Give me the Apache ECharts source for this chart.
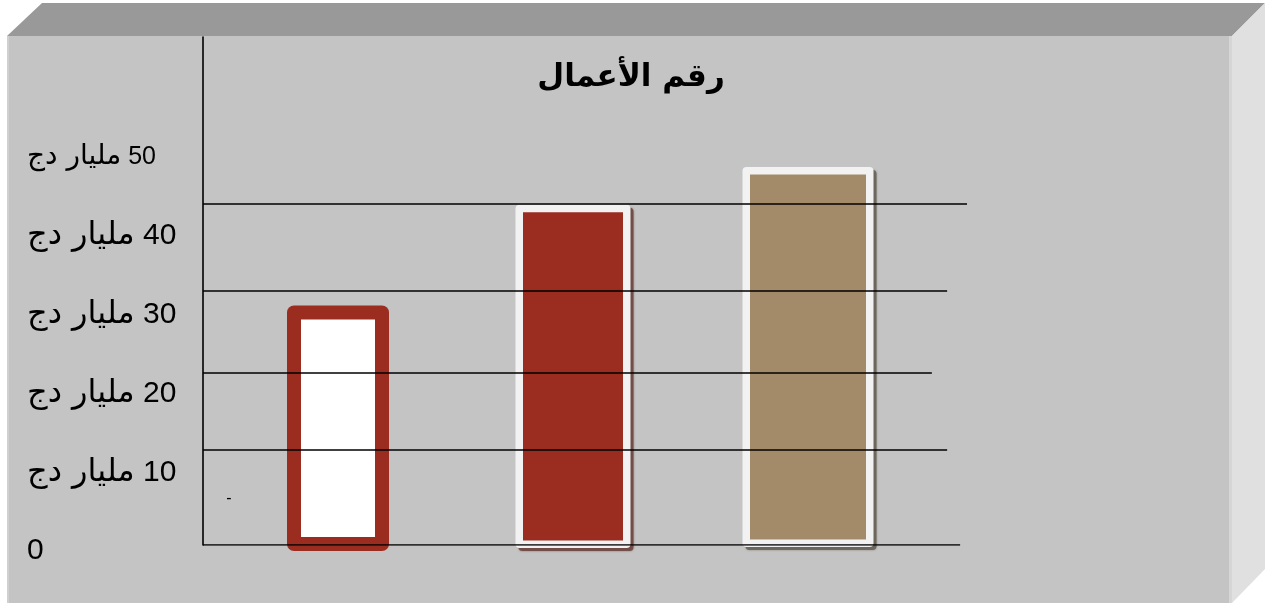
<!DOCTYPE html>
<html>
<head>
<meta charset="utf-8">
<script src="https://cdn.jsdelivr.net/npm/echarts@6/dist/echarts.min.js"></script>
<style>
html,body{margin:0;padding:0;background:#ffffff;}
#chart{width:1267px;height:606px;}
</style>
</head>
<body>
<div id="chart"></div>
<script>
// ---- data ----
const titleText = 'رقم الأعمال';
const unitText = 'مليار دج';
const categories = ['1', '2', '3'];
const values = [30.4, 43.2, 48.0];
const tickValues = [0, 10, 20, 30, 40, 50];
// hand-drawn horizontal guide lines (value on the same scale) and their right end (% of span)
const guideValues = [0, 12.06, 21.84, 32.25, 43.3];
const guideEnds = [99.1, 97.4, 95.4, 97.4, 100];

const FONT = '"Liberation Sans", "DejaVu Sans", sans-serif';
const AR_FONT = '"DejaVu Sans", "Liberation Sans", sans-serif';

const chart = echarts.init(document.getElementById('chart'), null, {renderer: 'canvas'});

// per-bar look: outer frame, inner fill
const barLooks = [
  {w: 102, frame: '#9a2d20', fill: '#ffffff', bw: 14, r: 7, drop: 6, shadow: null},
  {w: 115, frame: '#f2f2f2', fill: '#9a2d20', bw: 7.5, r: 4, drop: 3, shadow: 'rgba(110,70,65,0.85)'},
  {w: 131, frame: '#f2f2f2', fill: '#a38b6a', bw: 7.5, r: 4, drop: 2, shadow: 'rgba(105,98,88,0.85)'}
];

function renderBar(params, api) {
  const idx = api.value(0);
  const look = barLooks[idx];
  const base = api.coord([idx, 0]);
  const top = api.coord([idx, api.value(1)]);
  const x = base[0] - look.w / 2;
  const y = top[1];
  const h = base[1] - top[1] + look.drop;
  const children = [];
  if (look.shadow) {
    children.push({
      type: 'rect',
      shape: {x: x + 3, y: y + 3, width: look.w, height: h, r: look.r},
      style: {fill: look.shadow, shadowBlur: 2, shadowColor: look.shadow}
    });
  }
  children.push({
    type: 'rect',
    shape: {x: x, y: y, width: look.w, height: h, r: look.r},
    style: {fill: look.frame}
  });
  children.push({
    type: 'rect',
    shape: {x: x + look.bw, y: y + look.bw, width: look.w - 2 * look.bw, height: h - 2 * look.bw},
    style: {fill: look.fill}
  });
  return {type: 'group', children: children};
}

const barSeries = {
  type: 'custom',
  xAxisIndex: 0, yAxisIndex: 0,
  renderItem: renderBar,
  encode: {x: 0, y: 1},
  data: values.map((v, i) => [i, v]),
  z: 2,
  silent: true,
  clip: false
};

const guideSeries = {
  type: 'lines',
  coordinateSystem: 'cartesian2d',
  xAxisIndex: 1, yAxisIndex: 1,
  z: 5,
  silent: true,
  lineStyle: {color: '#000000', width: 1.6, opacity: 1},
  data: guideValues.map((g, i) => ({coords: [[0, g], [guideEnds[i], g]]}))
};

const option = {
  backgroundColor: '#ffffff',
  animation: false,
  title: {
    text: titleText,
    left: 626, top: 57,
    textAlign: 'center',
    textStyle: {fontFamily: AR_FONT, fontWeight: 'bold', fontSize: 31, color: '#000000'}
  },
  graphic: [
    {type: 'polygon', z: -10, shape: {points: [[42, 3], [1265, 3], [1232, 36], [7, 36]]}, style: {fill: '#999999'}},
    {type: 'rect', z: -10, shape: {x: 7, y: 36, width: 1225, height: 567}, style: {fill: '#c4c4c4'}},
    {type: 'rect', z: -9, shape: {x: 7, y: 36, width: 2, height: 567}, style: {fill: '#d0d0d0'}},
    {type: 'rect', z: -9, shape: {x: 1229, y: 36, width: 3, height: 567}, style: {fill: '#d6d6d6'}},
    {type: 'polygon', z: -10, shape: {points: [[1232, 36], [1265, 3], [1265, 569], [1232, 603]]}, style: {fill: '#e0e0e0'}},
    {type: 'text', z: 10, style: {text: '-', x: 229, y: 499, align: 'center', verticalAlign: 'middle', font: '16px ' + FONT, fill: '#000'}}
  ],
  grid: [
    {left: 220.5, width: 705, top: 37, bottom: 61, containLabel: false},
    {left: 203, width: 764, top: 37, bottom: 61, containLabel: false}
  ],
  xAxis: [
    {type: 'category', gridIndex: 0, data: categories,
     axisLine: {show: false}, axisTick: {show: false}, axisLabel: {show: false}, splitLine: {show: false}},
    {type: 'value', gridIndex: 1, min: 0, max: 100, show: false}
  ],
  yAxis: [
    {
      type: 'value', gridIndex: 0, min: 0, max: 64.5, interval: 10,
      offset: 17.5,
      axisLine: {show: true, lineStyle: {color: '#000000', width: 1.6}},
      axisTick: {show: false},
      splitLine: {show: false},
      axisLabel: {
        customValues: tickValues,
        align: 'left',
        margin: 176,
        padding: [12, 0, 0, 0],
        color: '#000000',
        fontFamily: FONT,
        fontSize: 30,
        formatter: function (v) {
          if (v === 0) return '{n|0}';
          return v === 50
            ? '{as|' + unitText + '}{ns| ' + v + '}'
            : '{a|' + unitText + '}{n| ' + v + '}';
        },
        rich: {
          a: {fontSize: 32, fontFamily: AR_FONT, color: '#000000'},
          n: {fontSize: 30, fontFamily: FONT, color: '#000000'},
          as: {fontSize: 28, fontFamily: AR_FONT, color: '#000000'},
          ns: {fontSize: 25, fontFamily: FONT, color: '#000000'}
        }
      }
    },
    {type: 'value', gridIndex: 1, min: 0, max: 64.5, show: false}
  ],
  series: [barSeries, guideSeries]
};

chart.setOption(option);
</script>
</body>
</html>
